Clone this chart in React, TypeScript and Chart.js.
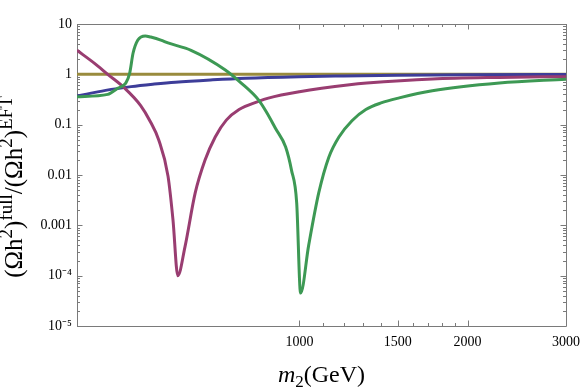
import React, { useEffect, useRef } from 'react';
import { Chart, registerables } from 'chart.js';

Chart.register(...registerables);

// ---- data ----
const massBlue = [400, 450, 500, 550, 600, 700, 800, 1000, 1200, 1500, 2000, 3000];
const ratioBlue = [0.37, 0.48, 0.57, 0.64, 0.7, 0.78, 0.84, 0.9, 0.93, 0.96, 0.98, 0.99];

const massGold = [400, 3000];
const ratioGold = [1.0, 1.0];

const massPurple = [400, 430, 454, 487, 520, 540, 560, 582, 594, 606, 624, 651, 678, 707, 740, 780, 845, 880, 1000, 1230, 1320, 1730, 2280, 3000];
const ratioPurple = [3.0, 1.65, 1.0, 0.53, 0.24, 0.12, 0.05, 0.0095, 0.0013, 0.0001, 0.00037, 0.0044, 0.0198, 0.057, 0.123, 0.2, 0.29, 0.337, 0.45, 0.62, 0.67, 0.81, 0.87, 0.9];

const massGreen = [400, 454, 473, 489, 497, 504, 514, 530, 542, 565, 582, 640, 737, 787, 845, 873, 906, 945, 968, 989, 1005, 1039, 1083, 1129, 1177, 1242, 1315, 1400, 1509, 1729, 2280, 3000];
const ratioGreen = [0.36, 0.4, 0.53, 0.67, 1.06, 2.65, 4.8, 5.8, 5.5, 4.8, 4.2, 3.0, 1.22, 0.67, 0.31, 0.178, 0.085, 0.036, 0.0125, 0.0028, 0.000045, 0.0004, 0.0044, 0.0226, 0.057, 0.12, 0.2, 0.27, 0.34, 0.47, 0.67, 0.8];

const xTickValues = [1000, 1100, 1200, 1300, 1400, 1500, 1600, 1700, 1800, 1900, 2000, 3000];
const xTickLabels = ['1000', '', '', '', '', '1500', '', '', '', '', '2000', '3000'];

const yDecadeValues = [1e-5, 1e-4, 1e-3, 1e-2, 1e-1, 1, 10];
const yDecadeLabels = ['10\u207B\u2075', '10\u207B\u2074', '0.001', '0.01', '0.1', '1', '10'];

const FONT = "'Liberation Serif', 'Times New Roman', serif";

function pts(xs: number[], ys: number[]) {
  return xs.map((x, i) => ({ x, y: ys[i] }));
}

function yTickList(): number[] {
  const out: number[] = [];
  for (let d = 0; d < yDecadeValues.length; d++) {
    const base = yDecadeValues[d];
    out.push(base);
    if (d < yDecadeValues.length - 1) {
      for (let k = 2; k <= 9; k++) out.push(base * k);
    }
  }
  return out;
}

const framePlugin = {
  id: 'mmaFrame',
  beforeDatasetsDraw(chart: any) {
    const { ctx, chartArea } = chart;
    const { left, right, top, bottom } = chartArea;
    const xs = chart.scales.x;
    const ys = chart.scales.y;
    ctx.save();
    ctx.strokeStyle = '#7a7a7a';
    ctx.lineWidth = 1;
    ctx.beginPath();
    ctx.rect(Math.round(left) + 0.5, Math.round(top) + 0.5, Math.round(right) - Math.round(left), Math.round(bottom) - Math.round(top));
    ctx.stroke();
    ctx.beginPath();
    xTickValues.forEach((v, i) => {
      const px = Math.round(xs.getPixelForValue(v)) + 0.5;
      const len = xTickLabels[i] ? 5.5 : 3;
      ctx.moveTo(px, bottom);
      ctx.lineTo(px, bottom - len);
      ctx.moveTo(px, top);
      ctx.lineTo(px, top + len);
    });
    yTickList().forEach((v) => {
      const py = Math.round(ys.getPixelForValue(v)) + 0.5;
      const major = yDecadeValues.some((d) => Math.abs(d - v) / d < 1e-9);
      const len = major ? 5.5 : 3;
      ctx.moveTo(left, py);
      ctx.lineTo(left + len, py);
      ctx.moveTo(right, py);
      ctx.lineTo(right - len, py);
    });
    ctx.stroke();
    ctx.restore();
  },
  afterDraw(chart: any) {
    const { ctx, chartArea } = chart;
    ctx.save();
    ctx.fillStyle = '#000';
    ctx.textBaseline = 'alphabetic';
    ctx.textAlign = 'left';

    // x-axis title: m_2(GeV)
    const fx = 24;
    const parts: [string, string, number][] = [
      ['m', `italic ${fx}px ${FONT}`, 0],
      ['2', `${Math.round(fx * 0.7)}px ${FONT}`, 5],
      ['(GeV)', `${fx}px ${FONT}`, 0],
    ];
    let total = 0;
    parts.forEach(([t, f]) => { ctx.font = f; total += ctx.measureText(t).width; });
    let x0 = (chartArea.left + chartArea.right) / 2 - total / 2;
    const base = 382;
    parts.forEach(([t, f, dy]) => {
      ctx.font = f;
      ctx.fillText(t, x0, base + dy);
      x0 += ctx.measureText(t).width;
    });

    // y-axis title: (Ωh²)^full/(Ωh²)^EFT, rotated
    const fy = 25;
    const sup = Math.round(fy * 0.74);
    const yparts: [string, boolean][] = [
      ['(\u03A9h', false], ['2', true], [')', false], ['full', true],
      ['/(\u03A9h', false], ['2', true], [')', false], ['EFT', true],
    ];
    let ytotal = 0;
    yparts.forEach(([t, s]) => { ctx.font = `${s ? sup : fy}px ${FONT}`; ytotal += ctx.measureText(t).width; });
    ctx.translate(22, 187);
    ctx.rotate(-Math.PI / 2);
    let p = -ytotal / 2;
    yparts.forEach(([t, s]) => {
      ctx.font = `${s ? sup : fy}px ${FONT}`;
      ctx.fillText(t, p, s ? -fy * 0.42 : 0);
      p += ctx.measureText(t).width;
    });
    ctx.restore();
  },
};

export default function App() {
  const ref = useRef<HTMLCanvasElement | null>(null);
  useEffect(() => {
    if (!ref.current) return;
    const line = (data: any, color: string) => ({
      data,
      borderColor: color,
      backgroundColor: color,
      borderWidth: 3,
      pointRadius: 0,
      fill: false,
      cubicInterpolationMode: 'monotone' as const,
    });
    const chart = new Chart(ref.current, {
      type: 'line',
      data: {
        datasets: [
          line(pts(massGreen, ratioGreen), '#3d9954'),
          line(pts(massPurple, ratioPurple), '#993d71'),
          line(pts(massBlue, ratioBlue), '#3d3d99'),
          line(pts(massGold, ratioGold), '#998b3d'),
        ],
      },
      options: {
        responsive: false,
        animation: false,
        events: [],
        layout: { padding: { top: 24, right: 15, left: 0, bottom: 0 } },
        plugins: { legend: { display: false }, tooltip: { enabled: false }, title: { display: false } },
        scales: {
          x: {
            type: 'logarithmic',
            min: 400,
            max: 3000,
            grid: { display: false, drawTicks: false, tickLength: 0 },
            border: { display: false },
            afterBuildTicks: (scale: any) => { scale.ticks = xTickValues.map((v) => ({ value: v })); },
            afterFit: (scale: any) => { scale.height = 62; scale.paddingLeft = 0; scale.paddingRight = 0; },
            ticks: {
              autoSkip: false,
              maxRotation: 0,
              minRotation: 0,
              padding: 8,
              color: '#000',
              font: { family: FONT, size: 14 },
              callback: (v: any) => { const i = xTickValues.indexOf(Number(v)); return i >= 0 ? xTickLabels[i] : ''; },
            },
          },
          y: {
            type: 'logarithmic',
            min: 1e-5,
            max: 10,
            grid: { display: false, drawTicks: false, tickLength: 0 },
            border: { display: false },
            afterBuildTicks: (scale: any) => { scale.ticks = yTickList().map((v) => ({ value: v })); },
            afterFit: (scale: any) => { scale.width = 77; scale.paddingTop = 0; scale.paddingBottom = 0; },
            ticks: {
              autoSkip: false,
              padding: 5,
              color: '#000',
              font: { family: FONT, size: 14 },
              callback: (v: any) => {
                const n = Number(v);
                const i = yDecadeValues.findIndex((d) => Math.abs(d - n) / d < 1e-9);
                return i >= 0 ? yDecadeLabels[i] : '';
              },
            },
          },
        },
      },
      plugins: [framePlugin],
    });
    return () => chart.destroy();
  }, []);
  return (
    <div style={{ position: 'absolute', left: 0, top: 0, width: 581, height: 388 }}>
      <canvas ref={ref} width={581} height={388} style={{ display: 'block' }} />
    </div>
  );
}
